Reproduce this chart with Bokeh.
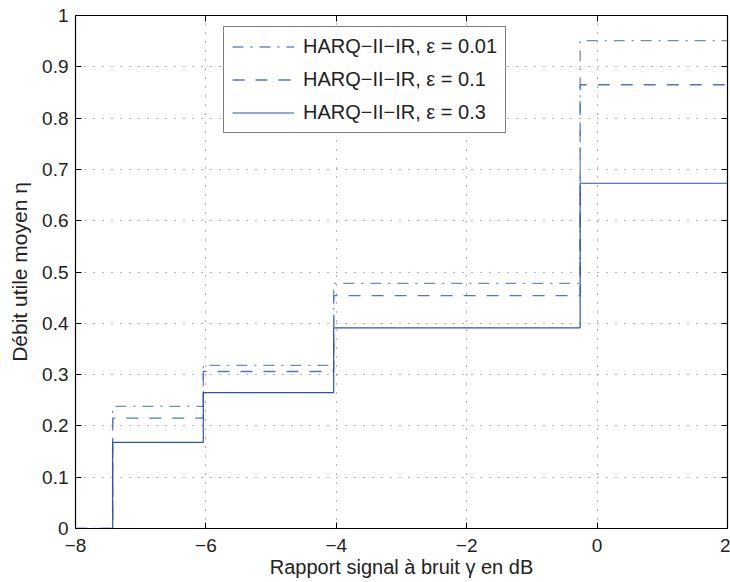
from bokeh.plotting import figure
from bokeh.models import LinearAxis, Legend, LegendItem, FixedTicker, Range1d
from bokeh.embed import file_html
from bokeh.resources import INLINE

# Data: step thresholds (dB) and throughput levels
x_steps = [-8.0, -7.43, -6.04, -4.04, -0.26, 2.0]
eta_001 = [0.0, 0.238, 0.318, 0.478, 0.951]
eta_01 = [0.0, 0.215, 0.306, 0.454, 0.865]
eta_03 = [0.0, 0.168, 0.265, 0.391, 0.673]
labels = ["HARQ\u2212II\u2212IR, \u03b5 = 0.01",
          "HARQ\u2212II\u2212IR, \u03b5 = 0.1",
          "HARQ\u2212II\u2212IR, \u03b5 = 0.3"]
x_ticks = [-8, -6, -4, -2, 0, 2]
x_tick_labels = ["\u22128", "\u22126", "\u22124", "\u22122", "0", "2"]
y_ticks = [0, 0.1, 0.2, 0.3, 0.4, 0.5, 0.6, 0.7, 0.8, 0.9, 1]
y_tick_labels = ["0", "0.1", "0.2", "0.3", "0.4", "0.5", "0.6", "0.7", "0.8", "0.9", "1"]


def step_xy(xs, ys):
    px, py = [], []
    for i, yv in enumerate(ys):
        px += [xs[i], xs[i + 1]]
        py += [yv, yv]
    return px, py


FONT = "Liberation Sans"
TICK_FS = "19px"
LABEL_FS = "20px"
LEG_FS = "20px"

p = figure(width=730, height=580, output_backend="svg", toolbar_location=None,
           x_range=Range1d(-8, 2), y_range=Range1d(0, 1),
           min_border_left=75, min_border_right=3, min_border_top=15, min_border_bottom=52,
           x_axis_location=None, y_axis_location=None)
p.outline_line_color = "black"
p.outline_line_width = 1.2
p.background_fill_color = "white"
p.border_fill_color = "white"


def style_axis(ax, ticks, overrides, show_labels):
    ax.ticker = FixedTicker(ticks=ticks)
    if show_labels:
        ax.major_label_overrides = {t: l for t, l in zip(ticks, overrides)}
    else:
        ax.major_label_overrides = {t: "" for t in ticks}
    ax.major_tick_in = 6
    ax.major_tick_out = 0
    ax.minor_tick_in = 0
    ax.minor_tick_out = 0
    ax.axis_line_color = "black"
    ax.major_tick_line_color = "black"
    ax.major_label_text_font = FONT
    ax.major_label_text_font_size = TICK_FS
    ax.major_label_text_color = "#222222"
    ax.axis_label_text_font = FONT
    ax.axis_label_text_font_size = LABEL_FS
    ax.axis_label_text_font_style = "normal"
    ax.axis_label_text_color = "#222222"


bx = LinearAxis()
style_axis(bx, x_ticks, x_tick_labels, True)
bx.axis_label = "Rapport signal \u00e0 bruit \u03b3 en dB"
bx.major_label_standoff = 10
bx.axis_label_standoff = 1
p.add_layout(bx, "below")

ly = LinearAxis()
style_axis(ly, y_ticks, y_tick_labels, True)
ly.axis_label = "D\u00e9bit utile moyen \u03b7"
ly.axis_label_text_font_size = "21px"
ly.major_label_standoff = 7
ly.axis_label_standoff = 8
p.add_layout(ly, "left")

tx = LinearAxis()
style_axis(tx, x_ticks, x_tick_labels, False)
tx.major_label_standoff = 0
p.add_layout(tx, "above")

ry = LinearAxis()
style_axis(ry, y_ticks, y_tick_labels, False)
ry.major_label_standoff = 0
p.add_layout(ry, "right")

p.xgrid.ticker = FixedTicker(ticks=x_ticks)
p.ygrid.ticker = FixedTicker(ticks=y_ticks)
for g in (p.xgrid, p.ygrid):
    g.grid_line_color = "#666666"
    g.grid_line_dash = "1 8"
    g.grid_line_width = 1

x1, y1 = step_xy(x_steps, eta_001)
x2, y2 = step_xy(x_steps, eta_01)
x3, y3 = step_xy(x_steps, eta_03)
r1 = p.line(x1, y1, line_color="#6f88c8", line_width=1.3, line_dash="11 7 2 7")
r2 = p.line(x2, y2, line_color="#5573c0", line_width=1.3, line_dash="12 11")
r3 = p.line(x3, y3, line_color="#2f52b0", line_width=1.2)

legend = Legend(items=[LegendItem(label=labels[0], renderers=[r1]),
                       LegendItem(label=labels[1], renderers=[r2]),
                       LegendItem(label=labels[2], renderers=[r3])],
                location=(148, 395))
legend.border_line_color = "black"
legend.border_line_width = 1.2
legend.background_fill_color = "white"
legend.background_fill_alpha = 1
legend.label_text_font = FONT
legend.label_text_font_size = LEG_FS
legend.label_text_color = "#222222"
legend.glyph_width = 62
legend.glyph_height = 23
legend.label_height = 23
legend.label_standoff = 9
legend.spacing = 10
legend.padding = 8
legend.margin = 0
p.add_layout(legend, "center")

open("out.html", "w").write(file_html(p, INLINE))
